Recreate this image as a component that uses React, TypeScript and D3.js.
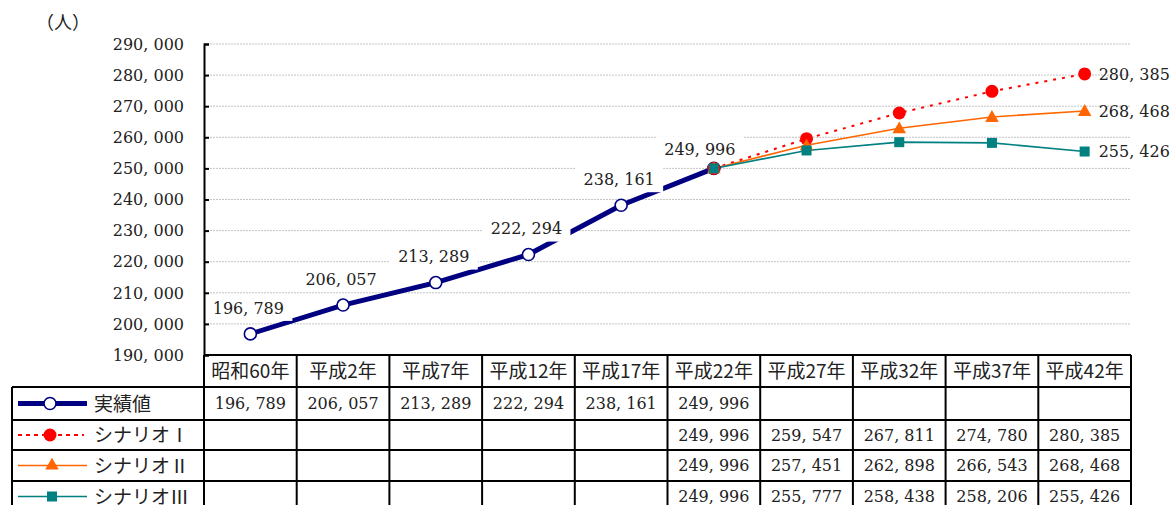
import { useEffect, useRef } from 'react';
import * as d3 from 'd3';

const categories = [
  '昭和60年', '平成2年', '平成7年', '平成12年', '平成17年',
  '平成22年', '平成27年', '平成32年', '平成37年', '平成42年',
];

const actual = [196789, 206057, 213289, 222294, 238161, 249996];
const scenario1 = [249996, 259547, 267811, 274780, 280385];
const scenario2 = [249996, 257451, 262898, 266543, 268468];
const scenario3 = [249996, 255777, 258438, 258206, 255426];
const scenarioStart = 5;

const yTicks = [190000, 200000, 210000, 220000, 230000, 240000, 250000, 260000, 270000, 280000, 290000];

const seriesNames = ['実績値', 'シナリオⅠ', 'シナリオⅡ', 'シナリオⅢ'];

const NUM_FONT = "'DejaVu Serif', 'Liberation Serif', 'Noto Sans CJK JP', serif";
const JP_FONT = "'Noto Sans CJK JP', sans-serif";
const FS = 16;

const fmt = (v: number) => d3.format(',')(v).replace(',', ', ');

const ChartPage = () => {
  const ref = useRef<SVGSVGElement>(null);

  useEffect(() => {
    const width = 1173;
    const height = 505;
    const left = 204;
    const right = 1131;
    const top = 44;
    const bottom = 355;
    const tableLeft = 12;
    const rowEdges = [355, 387, 420, 450, 481, 512];

    const x = d3.scaleBand<string>().domain(categories).range([left, right]).padding(0);
    const y = d3.scaleLinear().domain([190000, 290000]).range([bottom, top]);
    const cx = (i: number) => (x(categories[i]) as number) + x.bandwidth() / 2;

    const svg = d3.select(ref.current).attr('width', width).attr('height', height);
    svg.selectAll('*').remove();

    // grid
    svg
      .append('g')
      .selectAll('line')
      .data(yTicks.slice(1))
      .join('line')
      .attr('x1', left)
      .attr('x2', right)
      .attr('y1', (d) => y(d))
      .attr('y2', (d) => y(d))
      .attr('stroke', '#c4c4c4')
      .attr('stroke-width', 1)
      .attr('stroke-dasharray', '2,1');

    svg
      .append('g')
      .selectAll('text')
      .data(yTicks)
      .join('text')
      .attr('x', 184)
      .attr('y', (d) => y(d))
      .attr('dy', '0.36em')
      .attr('text-anchor', 'end')
      .attr('font-family', NUM_FONT)
      .attr('font-size', FS)
      .attr('fill', '#222')
      .text((d) => fmt(d));

    svg
      .append('text')
      .attr('x', 36)
      .attr('y', 29)
      .attr('font-family', JP_FONT)
      .attr('font-size', 18)
      .attr('fill', '#222')
      .text('（人）');

    // lines
    const line = d3
      .line<[number, number]>()
      .x((d) => d[0])
      .y((d) => y(d[1]));

    const actualPts: [number, number][] = actual.map((v, i) => [cx(i), v]);
    const sc = (arr: number[]) => arr.map((v, i) => [cx(i + scenarioStart), v] as [number, number]);

    svg
      .append('path')
      .attr('d', line(actualPts))
      .attr('fill', 'none')
      .attr('stroke', '#000080')
      .attr('stroke-width', 5);

    // data labels for actual (white boxes)
    const labelG = svg.append('g');
    actualPts.forEach(([px, v], i) => {
      const last = i === actual.length - 1;
      const lx = last ? px - 14 : px - 2;
      const ly = y(v) - (last ? 19 : 26);
      labelG
        .append('rect')
        .attr('x', lx - 44)
        .attr('y', ly - 13)
        .attr('width', 88)
        .attr('height', 26)
        .attr('fill', '#fff');
      labelG
        .append('text')
        .attr('x', lx)
        .attr('y', ly)
        .attr('dy', '0.36em')
        .attr('text-anchor', 'middle')
        .attr('font-family', NUM_FONT)
        .attr('font-size', FS)
        .attr('fill', '#222')
        .text(fmt(v));
    });

    // scenario lines (drawn above the label boxes)
    svg
      .append('path')
      .attr('d', line(sc(scenario1)))
      .attr('fill', 'none')
      .attr('stroke', '#ff0000')
      .attr('stroke-width', 2)
      .attr('stroke-dasharray', '3,6');

    svg
      .append('path')
      .attr('d', line(sc(scenario2)))
      .attr('fill', 'none')
      .attr('stroke', '#ff6600')
      .attr('stroke-width', 1.6);

    svg
      .append('path')
      .attr('d', line(sc(scenario3)))
      .attr('fill', 'none')
      .attr('stroke', '#008080')
      .attr('stroke-width', 1.6);

    // y axis (above label boxes)
    const yAxis = svg
      .append('g')
      .attr('transform', `translate(${left},0)`)
      .call(d3.axisRight(y).tickValues(yTicks).tickSize(5).tickFormat(() => ''));
    yAxis.select('.domain').attr('stroke', '#000').attr('stroke-width', 2);
    yAxis.selectAll('.tick line').attr('stroke', '#000').attr('stroke-width', 2);

    // markers
    const markerG = svg.append('g');
    markerG
      .selectAll('circle.act')
      .data(actualPts)
      .join('circle')
      .attr('cx', (d) => d[0])
      .attr('cy', (d) => y(d[1]))
      .attr('r', 6)
      .attr('fill', '#fff')
      .attr('stroke', '#000080')
      .attr('stroke-width', 1.6);

    markerG
      .selectAll('circle.s1')
      .data(sc(scenario1))
      .join('circle')
      .attr('cx', (d) => d[0])
      .attr('cy', (d) => y(d[1]))
      .attr('r', 6.5)
      .attr('fill', '#ff0000');

    const tri = d3.symbol().type(d3.symbolTriangle).size(80);
    markerG
      .append('g')
      .selectAll('path')
      .data(sc(scenario2))
      .join('path')
      .attr('d', tri)
      .attr('transform', (d) => `translate(${d[0]},${y(d[1]) + 1})`)
      .attr('fill', '#ff6600');

    markerG
      .append('g')
      .selectAll('rect')
      .data(sc(scenario3))
      .join('rect')
      .attr('x', (d) => d[0] - 5)
      .attr('y', (d) => y(d[1]) - 5)
      .attr('width', 10)
      .attr('height', 10)
      .attr('fill', '#008080');

    // end labels
    const ends = [scenario1, scenario2, scenario3].map((s) => s[s.length - 1]);
    svg
      .append('g')
      .selectAll('text')
      .data(ends)
      .join('text')
      .attr('x', cx(categories.length - 1) + 14)
      .attr('y', (d) => y(d))
      .attr('dy', '0.36em')
      .attr('font-family', NUM_FONT)
      .attr('font-size', FS)
      .attr('fill', '#222')
      .text((d) => fmt(d));

    // data table
    const table = svg.append('g');
    const rowsData: (number | null)[][] = [
      categories.map((_, i) => (i < actual.length ? actual[i] : null)),
      categories.map((_, i) => (i >= scenarioStart ? scenario1[i - scenarioStart] : null)),
      categories.map((_, i) => (i >= scenarioStart ? scenario2[i - scenarioStart] : null)),
      categories.map((_, i) => (i >= scenarioStart ? scenario3[i - scenarioStart] : null)),
    ];

    table
      .append('line')
      .attr('x1', left)
      .attr('x2', right)
      .attr('y1', rowEdges[0])
      .attr('y2', rowEdges[0])
      .attr('stroke', '#000')
      .attr('stroke-width', 2);
    rowEdges.slice(1).forEach((ry) => {
      table
        .append('line')
        .attr('x1', tableLeft)
        .attr('x2', right)
        .attr('y1', ry)
        .attr('y2', ry)
        .attr('stroke', '#000')
        .attr('stroke-width', 2);
    });
    table
      .append('line')
      .attr('x1', tableLeft)
      .attr('x2', tableLeft)
      .attr('y1', rowEdges[1])
      .attr('y2', rowEdges[5])
      .attr('stroke', '#000')
      .attr('stroke-width', 2);
    [...categories.map((c) => x(c) as number), right].forEach((vx) => {
      table
        .append('line')
        .attr('x1', vx)
        .attr('x2', vx)
        .attr('y1', rowEdges[0])
        .attr('y2', rowEdges[5])
        .attr('stroke', '#000')
        .attr('stroke-width', 2);
    });

    table
      .selectAll('text.head')
      .data(categories)
      .join('text')
      .attr('x', (_, i) => cx(i))
      .attr('y', (rowEdges[0] + rowEdges[1]) / 2)
      .attr('dy', '0.36em')
      .attr('text-anchor', 'middle')
      .attr('font-family', JP_FONT)
      .attr('font-size', 19)
      .attr('fill', '#222')
      .text((d) => d);

    rowsData.forEach((row, r) => {
      const ry = (rowEdges[r + 1] + rowEdges[r + 2]) / 2;
      row.forEach((v, i) => {
        if (v === null) return;
        table
          .append('text')
          .attr('x', cx(i))
          .attr('y', ry)
          .attr('dy', '0.36em')
          .attr('text-anchor', 'middle')
          .attr('font-family', NUM_FONT)
          .attr('font-size', FS)
          .attr('fill', '#222')
          .text(fmt(v));
      });

      // legend
      const lg = table.append('g');
      lg.append('text')
        .attr('x', 94)
        .attr('y', ry)
        .attr('dy', '0.38em')
        .attr('font-family', JP_FONT)
        .attr('font-size', 19)
        .attr('fill', '#222')
        .text(seriesNames[r]);
      if (r === 0) {
        lg.append('line').attr('x1', 18).attr('x2', 87).attr('y1', ry).attr('y2', ry)
          .attr('stroke', '#000080').attr('stroke-width', 5);
        lg.append('circle').attr('cx', 50).attr('cy', ry).attr('r', 6)
          .attr('fill', '#fff').attr('stroke', '#000080').attr('stroke-width', 1.6);
      } else if (r === 1) {
        lg.append('line').attr('x1', 18).attr('x2', 84).attr('y1', ry).attr('y2', ry)
          .attr('stroke', '#ff0000').attr('stroke-width', 2).attr('stroke-dasharray', '4,4');
        lg.append('circle').attr('cx', 50).attr('cy', ry).attr('r', 6.5).attr('fill', '#ff0000');
      } else if (r === 2) {
        lg.append('line').attr('x1', 18).attr('x2', 87).attr('y1', ry).attr('y2', ry)
          .attr('stroke', '#ff6600').attr('stroke-width', 1.6);
        lg.append('path').attr('d', tri).attr('transform', `translate(52,${ry})`).attr('fill', '#ff6600');
      } else {
        lg.append('line').attr('x1', 18).attr('x2', 87).attr('y1', ry).attr('y2', ry)
          .attr('stroke', '#008080').attr('stroke-width', 1.6);
        lg.append('rect').attr('x', 47).attr('y', ry - 5).attr('width', 10).attr('height', 10).attr('fill', '#008080');
      }
    });
  }, [ref]);

  return <svg ref={ref} style={{ display: 'block', position: 'absolute', left: 0, top: 0 }} />;
};

export default function App() {
  return (
    <div>
      <ChartPage />
    </div>
  );
}
